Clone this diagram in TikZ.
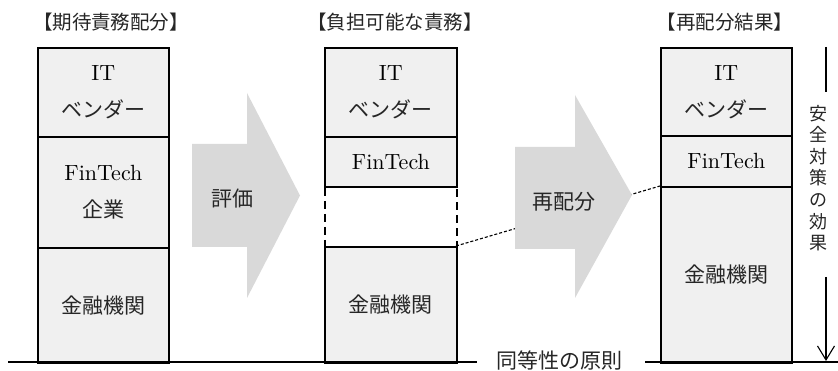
\documentclass[tikz,border=0pt]{standalone}
\usepackage{fontspec}
\newfontfamily\jp{Noto Sans CJK JP}
\newfontfamily\lat{lmroman10-regular}[Extension=.otf]
\usetikzlibrary{arrows.meta}
\definecolor{boxfill}{HTML}{F0F0F0}
\definecolor{arrowfill}{HTML}{D9D9D9}
\definecolor{jptext}{HTML}{262626}
\begin{document}
\begin{tikzpicture}[x=1pt,y=-1pt,
  box/.style={draw=black, line width=1.8pt, fill=boxfill, anchor=north west,
    inner sep=0pt, align=center, text=black, font=\lat\fontsize{22}{37}\selectfont},
  dashbox/.style={draw=black, line width=1.8pt, dash pattern=on 8pt off 5pt,
    anchor=north west, inner sep=0pt},
  title/.style={font=\jp\fontsize{19.5}{22}\selectfont, text=jptext, inner sep=0pt},
  arrowlabel/.style={font=\jp\fontsize{21}{24}\selectfont, text=jptext, inner sep=0pt},
  bigarrow/.style={fill=arrowfill, draw=none},
  connector/.style={draw=black, line width=1.1pt, dash pattern=on 3pt off 2pt},
  baseline/.style={draw=black, line width=1.8pt},
  axis/.style={draw=black, line width=1.1pt}]
\useasboundingbox (0,0) rectangle (838,371);

% titles
\node[title] (t1) at (111,22) {【期待責務配分】};
\node[title] (t2) at (395,22) {【負担可能な責務】};
\node[title] (t3) at (725,22) {【再配分結果】};

% dashed connector (behind arrow 2)
\coordinate (cstart) at (456,246);
\coordinate (cend) at (660,186);
\draw[connector] (cstart) -- (cend);

% column 1
\node[box, minimum width=131pt, minimum height=89pt] (a1) at (37,47) {IT\\{\jp\fontsize{21}{37}\selectfont\color{jptext}ベンダー}};
\node[box, minimum width=131pt, minimum height=111pt] (a2) at (37,136) {FinTech\\{\jp\fontsize{21}{37}\selectfont\color{jptext}企業}};
\node[box, minimum width=131pt, minimum height=115pt] (a3) at (37,247) {\jp\fontsize{21}{24}\selectfont\color{jptext}金融機関};

% column 2
\node[dashbox, minimum width=132pt, minimum height=60pt] (bx) at (324,186) {};
\node[box, minimum width=132pt, minimum height=89pt] (b1) at (324,47) {IT\\{\jp\fontsize{21}{37}\selectfont\color{jptext}ベンダー}};
\node[box, minimum width=132pt, minimum height=50pt] (b2) at (324,136) {\raisebox{-3pt}{FinTech}};
\node[box, minimum width=132pt, minimum height=116pt] (b3) at (324,246) {\jp\fontsize{21}{24}\selectfont\color{jptext}金融機関};

% column 3
\node[box, minimum width=131pt, minimum height=88pt] (c1) at (660,47) {IT\\{\jp\fontsize{21}{37}\selectfont\color{jptext}ベンダー}};
\node[box, minimum width=131pt, minimum height=51pt] (c2) at (660,135) {\raisebox{-3pt}{FinTech}};
\node[box, minimum width=131pt, minimum height=176pt] (c3) at (660,186) {\jp\fontsize{21}{24}\selectfont\color{jptext}金融機関};

% big arrows
\fill[bigarrow] (192,144) -- (247,144) -- (247,93) -- (300,195.5) -- (247,298) -- (247,247) -- (192,247) -- cycle;
\node[arrowlabel] (l1) at (232,199) {評価};
\fill[bigarrow] (515,147) -- (575,147) -- (575,95) -- (632,195) -- (575,298) -- (575,249) -- (515,249) -- cycle;
\node[arrowlabel] (l2) at (564,202) {再配分};

% base line with label
\node[arrowlabel] (eq) at (559,360) {同等性の原則};
\coordinate (bl0) at (8,362);
\coordinate (bl1) at (477,362);
\coordinate (bl2) at (645,362);
\coordinate (bl3) at (838,362);
\draw[baseline] (bl0) -- (bl1);
\draw[baseline] (bl2) -- (bl3);

% vertical axis
\coordinate (ax0) at (826,47);
\coordinate (ax1) at (826,92);
\coordinate (ax2) at (826,277);
\coordinate (ax3) at (826,361);
\node[font=\jp\fontsize{18}{21.6}\selectfont, text=jptext, align=center, inner sep=0pt] (axl) at (818,178) {安\\全\\対\\策\\の\\効\\果};
\draw[axis] (ax0) -- (ax1);
\draw[axis, -{Straight Barb[length=14pt,width=17pt]}] (ax2) -- (ax3);
\end{tikzpicture}
\end{document}
